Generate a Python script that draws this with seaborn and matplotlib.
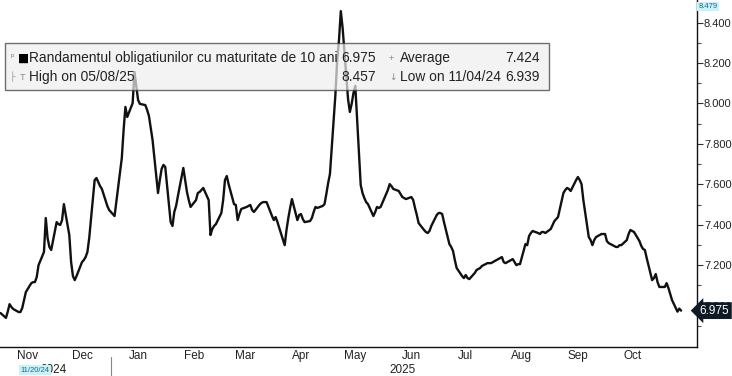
import pandas as pd
import numpy as np
import matplotlib
matplotlib.use("Agg")
import matplotlib.pyplot as plt
import matplotlib.dates as mdates
import matplotlib.transforms as mtransforms
from matplotlib.patches import Rectangle
import seaborn as sns

# Randament obligatiuni 10 ani, valori zilnice (zile lucratoare de la 01.11.2024)
yields = [
    6.963,
    6.939, 6.970, 7.007, 6.993, 6.983,
    6.968, 6.968, 6.988, 7.027, 7.067,
    7.111, 7.116, 7.116, 7.141, 7.200,
    7.265, 7.433, 7.334, 7.290, 7.275,
    7.413, 7.403, 7.399, 7.423, 7.502,
    7.349, 7.215, 7.146, 7.126, 7.146,
    7.215, 7.225, 7.240, 7.265, 7.334,
    7.621, 7.631, 7.611, 7.591, 7.577,
    7.493, 7.473, 7.463, 7.453, 7.443,
    7.656, 7.730, 7.869, 7.983, 7.933,
    8.002, 8.156, 8.087, 8.017, 7.998,
    7.992, 7.968, 7.938, 7.879, 7.819,
    7.557, 7.621, 7.676, 7.696, 7.686,
    7.413, 7.394, 7.463, 7.493, 7.542,
    7.681, 7.621, 7.562, 7.522, 7.488,
    7.522, 7.557, 7.562, 7.572, 7.582,
    7.522, 7.349, 7.379, 7.394, 7.403,
    7.458, 7.522, 7.621, 7.641, 7.601,
    7.502, 7.498, 7.423, 7.453, 7.478,
    7.488, 7.493, 7.498, 7.473, 7.463,
    7.498, 7.507, 7.512, 7.512, 7.512,
    7.443, 7.423, 7.438, 7.413, 7.384,
    7.299, 7.374, 7.433, 7.483, 7.527,
    7.423, 7.448, 7.453, 7.428, 7.413,
    7.418, 7.433, 7.463, 7.488, 7.483,
    7.493, 7.502, 7.552, 7.606, 7.651,
    8.042, 8.215, 8.314, 8.457, 8.374,
    8.022, 7.958, 7.998, 8.052, 8.087,
    7.596, 7.557, 7.532, 7.512, 7.502,
    7.443, 7.463, 7.488, 7.483, 7.488,
    7.552, 7.572, 7.601, 7.591, 7.577,
    7.567, 7.552, 7.537, 7.532, 7.527,
    7.537, 7.522, 7.483, 7.448, 7.408,
    7.374, 7.364, 7.359, 7.369, 7.394,
    7.448, 7.458, 7.458, 7.453, 7.413,
    7.304, 7.290, 7.270, 7.225, 7.186,
    7.146, 7.136, 7.151, 7.136, 7.131,
    7.161, 7.176, 7.181, 7.186, 7.196,
    7.210, 7.210, 7.210, 7.215, 7.220,
    7.235, 7.240, 7.215, 7.210, 7.215,
    7.230, 7.215, 7.200, 7.205, 7.205,
    7.304, 7.299, 7.344, 7.359, 7.369,
    7.359, 7.354, 7.364, 7.364, 7.359,
    7.379, 7.399, 7.418, 7.428, 7.438,
    7.557, 7.572, 7.582, 7.577, 7.567,
    7.621, 7.636, 7.621, 7.601, 7.522,
    7.339, 7.324, 7.299, 7.324, 7.339,
    7.354, 7.354, 7.354, 7.319, 7.309,
    7.295, 7.290, 7.290, 7.299, 7.299,
    7.324, 7.354, 7.374, 7.369, 7.364,
    7.319, 7.295, 7.280, 7.275, 7.235,
    7.126, 7.136, 7.156, 7.116, 7.092,
    7.092, 7.111, 7.087, 7.057, 7.027,
    6.970, 6.985, 6.975,
]
dates = pd.bdate_range(start="2024-11-01", periods=len(yields))

series_name = "Randamentul obligatiunilor cu maturitate de 10 ani"
last_val = "6.975"
avg_val = "7.424"
high_label, high_val = "High on 05/08/25", "8.457"
low_label, low_val = "Low on 11/04/24", "6.939"
month_labels = ["Nov", "Dec", "Jan", "Feb", "Mar", "Apr", "May", "Jun", "Jul", "Aug", "Sep", "Oct"]
y_ticks = [7.0, 7.2, 7.4, 7.6, 7.8, 8.0, 8.2, 8.4]

sns.set_style("white")
plt.rcParams["font.family"] = ["Liberation Sans", "DejaVu Sans"]

W, H = 732, 376
fig = plt.figure(figsize=(W / 100, H / 100), dpi=100)
ax = fig.add_axes([0, 1 - 347 / H, 697 / W, 347 / H])

df = pd.DataFrame({"date": dates, "yield": yields})
sns.lineplot(data=df, x="date", y="yield", color="#111111", linewidth=1.7, ax=ax)

ax.set_xlim(pd.Timestamp("2024-10-31 17:00"), pd.Timestamp("2025-11-20 19:00"))
ax.set_ylim(6.795, 8.512)
ax.set_xlabel("")
ax.set_ylabel("")

for s in ["left", "top"]:
    ax.spines[s].set_visible(False)
for s in ["right", "bottom"]:
    ax.spines[s].set_color("#111111")
    ax.spines[s].set_linewidth(1.0)

# y axis on the right
ax.yaxis.tick_right()
ax.set_yticks(y_ticks)
ax.set_yticklabels([f"{t:.3f}" for t in y_ticks])
ax.set_yticks(np.arange(6.9, 8.45, 0.2), minor=True)
ax.tick_params(axis="y", which="major", direction="out", length=4, width=0.8,
               color="#333333", labelsize=8, labelcolor="#222222", pad=1)
ax.tick_params(axis="y", which="minor", direction="out", length=3, width=0.8, color="#555555")

# x axis: ticks at month starts, labels mid month
month_starts = pd.date_range("2024-12-01", "2025-11-01", freq="MS")
mid_months = pd.date_range("2024-11-01", "2025-10-01", freq="MS") + pd.Timedelta(days=15)
ax.set_xticks(month_starts)
ax.set_xticklabels([""] * len(month_starts))
ax.set_xticks(mid_months, minor=True)
ax.set_xticklabels(month_labels, minor=True)
ax.tick_params(axis="x", which="major", direction="out", length=3, width=0.8, color="#555555")
ax.tick_params(axis="x", which="minor", length=0, labelsize=8.5, labelcolor="#222222", pad=2)

# year labels and separator
trans_x = mtransforms.blended_transform_factory(ax.transData, fig.transFigure)
ax.text(mdates.date2num(pd.Timestamp("2024-11-30 12:00")), 1 - 370 / H, "2024",
        transform=trans_x, ha="center", va="center", fontsize=8.5, color="#222222")
ax.text(mdates.date2num(pd.Timestamp("2025-06-11")), 1 - 370 / H, "2025",
        transform=trans_x, ha="center", va="center", fontsize=8.5, color="#222222")
sep_x = mdates.date2num(pd.Timestamp("2025-01-01"))
ax.plot([sep_x, sep_x], [1 - 357 / H, 0], transform=trans_x, color="#888888",
        linewidth=0.8, clip_on=False)
ax.text(mdates.date2num(pd.Timestamp("2024-11-20")), 1 - 370 / H, "11/20/24",
        transform=trans_x, ha="center", va="center", fontsize=5.5, color="#1a6a8a",
        bbox=dict(boxstyle="square,pad=0.15", facecolor="#c9f1f7", edgecolor="none"))

# right side labels
trans_y = mtransforms.blended_transform_factory(ax.transAxes, ax.transData)
ax.text(1.004, 6.975, last_val, transform=trans_y, ha="left", va="center",
        fontsize=8.5, color="white", zorder=10,
        bbox=dict(boxstyle="larrow,pad=0.2", facecolor="#0f1a26", edgecolor="none"))
ax.text(1.002, 8.479, "8.479", transform=trans_y, ha="left", va="center",
        fontsize=5.5, color="#1a6a8a", zorder=10,
        bbox=dict(boxstyle="square,pad=0.15", facecolor="#c9f1f7", edgecolor="none"))

# legend box
def fx(x):
    return x / W

def fy(y):
    return 1 - y / H

fig.patches.append(Rectangle((fx(5), fy(90)), fx(549) - fx(5), fy(43) - fy(90),
                             transform=fig.transFigure, facecolor="#efefef",
                             edgecolor="#333333", linewidth=1.0, alpha=0.7, zorder=5))
fs = 9.9
r1, r2 = fy(58), fy(77)
fig.text(fx(11), r1, "ᵖ", fontsize=6, color="#777777", va="center", zorder=6)
fig.text(fx(18), r1, "■", fontsize=8.5, color="#000000", va="center", zorder=6,
         family=["DejaVu Sans"])
fig.text(fx(29), r1, series_name, fontsize=fs, color="#222222", va="center", zorder=6)
fig.text(fx(376), r1, last_val, fontsize=fs, color="#222222", va="center", ha="right", zorder=6)
fig.text(fx(389), r1, "+", fontsize=6.5, color="#888888", va="center", zorder=6)
fig.text(fx(400), r1, "Average", fontsize=fs, color="#222222", va="center", zorder=6)
fig.text(fx(540), r1, avg_val, fontsize=fs, color="#222222", va="center", ha="right", zorder=6)
fig.text(fx(10), r2, "├", fontsize=6.5, color="#999999", va="center", zorder=6,
         family=["DejaVu Sans"])
fig.text(fx(20), r2, "T", fontsize=6.5, color="#888888", va="center", zorder=6)
fig.text(fx(29), r2, high_label, fontsize=fs, color="#222222", va="center", zorder=6)
fig.text(fx(376), r2, high_val, fontsize=fs, color="#222222", va="center", ha="right", zorder=6)
fig.text(fx(389), r2, "↓", fontsize=6.5, color="#888888", va="center", zorder=6,
         family=["DejaVu Sans"])
fig.text(fx(400), r2, low_label, fontsize=fs, color="#222222", va="center", zorder=6)
fig.text(fx(540), r2, low_val, fontsize=fs, color="#222222", va="center", ha="right", zorder=6)

fig.savefig("out.png", dpi=100)
